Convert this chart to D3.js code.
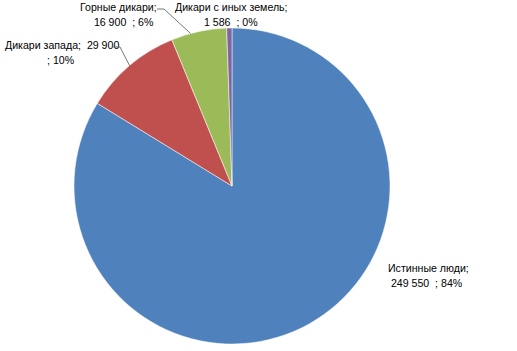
<!DOCTYPE html>
<head>
  <meta charset="utf-8">
  <title>Pie chart</title>
  <script src="https://d3js.org/d3.v7.min.js"></script>
  <style>
    body { margin: 0; background: #fff; }
    text { font-family: "Liberation Sans", "DejaVu Sans", sans-serif; font-size: 10.6px; fill: #000; }
  </style>
</head>
<body>
  <div id="chart"></div>
  <script>
    // Daten
    var names = ['Истинные люди', 'Дикари запада', 'Горные дикари', 'Дикари с иных земель'];
    var values = [249550, 29900, 16900, 1586];
    var pctLabels = ['84%', '10%', '6%', '0%'];
    var colors = ['#4f81bd', '#c0504d', '#9bbb59', '#8064a2'];

    var width = 517, height = 351;
    var cx = 232, cy = 186, radius = 158;

    var svg = d3.select('#chart').append('svg')
      .attr('width', width).attr('height', height);

    var data = names.map(function (n, i) {
      return { name: n, value: values[i], pct: pctLabels[i], color: colors[i] };
    });

    var pie = d3.pie().sort(null).value(function (d) { return d.value; });
    var arc = d3.arc().innerRadius(0).outerRadius(radius);
    var arcs = pie(data);

    var g = svg.append('g').attr('transform', 'translate(' + cx + ',' + cy + ')');
    g.selectAll('path').data(arcs).enter().append('path')
      .attr('d', arc)
      .attr('fill', function (d) { return d.data.color; })
      .attr('stroke', '#fff').attr('stroke-width', 0.5);

    function fmt(v) { return d3.format(',')(v).replace(/,/g, ' '); }

    // Beschriftungen (Position je Segment)
    var labelPos = [
      { x: 388, y: 272, lines: function (d) { return [d.name + ';', '\u00a0' + fmt(d.value) + '\u00a0\u00a0; ' + d.pct]; }, dx2: 0 },
      { x: 5, y: 49, lines: function (d) { return [d.name + ';\u00a0 ' + fmt(d.value), '; ' + d.pct]; }, dx2: 42 },
      { x: 80, y: 11, lines: function (d) { return [d.name + ';', '\u00a0\u00a0' + fmt(d.value) + '\u00a0\u00a0; ' + d.pct]; }, dx2: 8 },
      { x: 175, y: 11, lines: function (d) { return [d.name + ';', fmt(d.value) + '\u00a0\u00a0; ' + d.pct]; }, dx2: 29 }
    ];

    arcs.forEach(function (a, i) {
      var p = labelPos[i];
      var t = svg.append('text').attr('x', p.x).attr('y', p.y);
      p.lines(a.data).forEach(function (l, j) {
        t.append('tspan').attr('x', p.x + (j ? p.dx2 : 0)).attr('dy', j ? 15 : 0).text(l);
      });
    });

    // Führungslinien
    var line = d3.line();
    function edge(i, f) {
      var a = arcs[i], m = a.startAngle + (a.endAngle - a.startAngle) * f;
      return [cx + Math.sin(m) * radius, cy - Math.cos(m) * radius];
    }
    svg.append('path').attr('d', line([[113, 47], [120, 47], edge(1, 0.5)]))
      .attr('fill', 'none').attr('stroke', '#555').attr('stroke-width', 0.8);
    svg.append('path').attr('d', line([[157, 9], [164, 9], edge(2, 0.35)]))
      .attr('fill', 'none').attr('stroke', '#555').attr('stroke-width', 0.8);
  </script>
</body>
